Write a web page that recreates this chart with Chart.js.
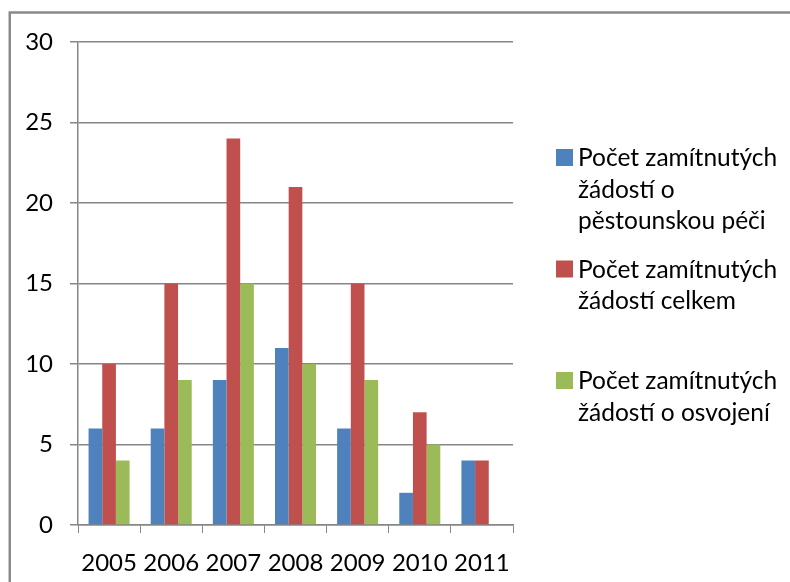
<!DOCTYPE html>
<html>
<head>
<meta charset="utf-8">
<script src="https://cdn.jsdelivr.net/npm/chart.js@4/dist/chart.umd.min.js"></script>
<style>
    body { margin: 0; background: #fff; }
    #wrap { width: 790px; height: 582px; position: relative; }
</style>
</head>
<body>
<div id="wrap"><canvas id="mybar"></canvas></div>
<script>
var years = ['2005', '2006', '2007', '2008', '2009', '2010', '2011']
var pestounska = [6, 6, 9, 11, 6, 2, 4]
var celkem = [10, 15, 24, 21, 15, 7, 4]
var osvojeni = [4, 9, 15, 10, 9, 5, null]
var legendLines = [
    ['Počet zamítnutých', 'žádostí o', 'pěstounskou péči'],
    ['Počet zamítnutých', 'žádostí celkem'],
    ['Počet zamítnutých', 'žádostí o osvojení']
]
var colors = ['#4F81BD', '#C0504D', '#9BBB59']
var gridColor = '#868686'
var fontName = 'Lato'

// white page, frame and the right-hand legend
var framePlugin = {
    id: 'frame',
    beforeDraw: (chart) => {
        var ctx = chart.ctx
        ctx.save()
        ctx.fillStyle = '#fff'
        ctx.fillRect(0, 0, chart.width, chart.height)
        ctx.strokeStyle = '#8a8a8a'
        ctx.lineWidth = 2.5
        ctx.beginPath()
        ctx.moveTo(9.75, chart.height)
        ctx.lineTo(9.75, 12.5)
        ctx.lineTo(chart.width, 12.5)
        ctx.stroke()
        ctx.restore()
    },
    afterDraw: (chart) => {
        var ctx = chart.ctx
        ctx.save()
        ctx.font = '24.5px ' + fontName
        ctx.textBaseline = 'alphabetic'
        chart.data.datasets.forEach((ds, i) => {
            var base = 166 + i * 111.5
            ctx.fillStyle = ds.backgroundColor
            ctx.fillRect(556, base - 17, 17, 17)
            ctx.fillStyle = '#000'
            legendLines[i].forEach((line, j) => {
                ctx.fillText(line, 578, base + j * 31.7)
            })
        })
        ctx.restore()
    }
}

var bar = document.getElementById('mybar')

var bar_data = {
    labels: years,
    datasets: [{
        label: legendLines[0].join(' '),
        backgroundColor: colors[0],
        data: pestounska
    },
    {
        label: legendLines[1].join(' '),
        backgroundColor: colors[1],
        data: celkem
    },
    {
        label: legendLines[2].join(' '),
        backgroundColor: colors[2],
        data: osvojeni
    }]
}

var mybar = new Chart(bar, {
    type: 'bar',
    data: bar_data,
    plugins: [framePlugin],
    options: {
        maintainAspectRatio: false,
        animation: false,
        layout: {
            padding: { top: 42, right: 277, left: 0, bottom: 0 }
        },
        datasets: {
            bar: {
                categoryPercentage: 0.66,
                barPercentage: 1,
                borderWidth: 0
            }
        },
        plugins: {
            legend: { display: false },
            tooltip: { enabled: false }
        },
        scales: {
            x: {
                grid: {
                    offset: true,
                    drawOnChartArea: false,
                    color: gridColor,
                    tickLength: 8
                },
                border: { color: gridColor, width: 1.5 },
                ticks: {
                    color: '#000',
                    font: { family: fontName, size: 24 },
                    padding: 16,
                    maxRotation: 0
                },
                afterFit: (s) => { s.height = 57 }
            },
            y: {
                min: 0,
                max: 30,
                grid: {
                    color: gridColor,
                    lineWidth: 1.5,
                    tickLength: 8
                },
                border: { color: gridColor, width: 1.5 },
                ticks: {
                    stepSize: 5,
                    color: '#000',
                    font: { family: fontName, size: 24 },
                    padding: 17
                },
                afterFit: (s) => { s.width = 78 }
            }
        }
    }
})
</script>
</body>
</html>
